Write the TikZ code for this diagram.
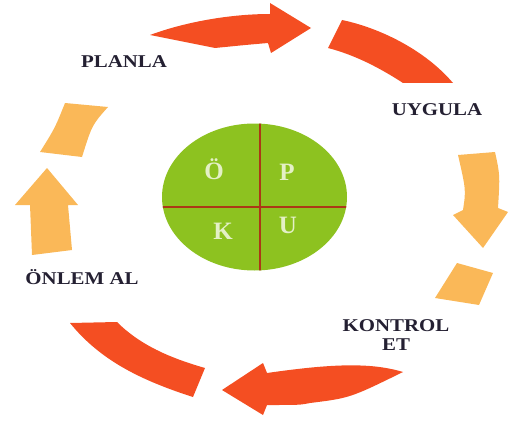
\documentclass[tikz,border=0pt]{standalone}
\usepackage{fontspec}
\setmainfont{Liberation Serif}
\usepackage{tikz}
\usetikzlibrary{shapes.geometric}
\definecolor{arrowred}{RGB}{244,78,34}
\definecolor{arrowpale}{RGB}{250,184,88}
\definecolor{leafgreen}{RGB}{141,194,32}
\definecolor{crossred}{RGB}{172,56,22}
\definecolor{labelink}{RGB}{36,32,50}
\definecolor{letterink}{RGB}{228,240,198}

\begin{document}
\begin{tikzpicture}[x=1pt,y=-1pt,
  redpiece/.style={fill=arrowred,draw=none},
  palepiece/.style={fill=arrowpale,draw=none},
  steplabel/.style={text=labelink,font=\fontsize{18}{19}\selectfont\bfseries,xscale=1.16,align=center,inner sep=0pt},
  letter/.style={text=letterink,font=\fontsize{25}{26}\selectfont\bfseries,inner sep=0pt}]
  \useasboundingbox (0,0) rectangle (510,425);
  % red arrows and bands
  \fill[redpiece] (150,35) .. controls (185,22) and (230,14) .. (270,14) -- (270,3) -- (311,28)
    -- (271,53) -- (268,43) .. controls (245,45) .. (215,48) -- cycle;
  \fill[redpiece] (342,20) .. controls (380,28) and (425,50) .. (453,83) -- (403,83)
    .. controls (380,68) and (355,55) .. (328,48) -- cycle;
  \fill[redpiece] (403,372) .. controls (370,362) and (330,364) .. (267,373) -- (263,363) -- (222,390)
    -- (263,415) -- (267,405) .. controls (300,405) .. (310,403) .. controls (350,398) .. cycle;
  \fill[redpiece] (70,323) -- (117,322) .. controls (140,345) and (170,358) .. (205,368) -- (193,397)
    .. controls (140,380) and (100,360) .. cycle;
  % pale arrows and blocks
  \fill[palepiece] (458,155) -- (495,152) .. controls (500,175) .. (498,208) -- (508,212) -- (483,248)
    -- (453,215) -- (463,210) .. controls (466,190) .. cycle;
  \fill[palepiece] (457,263) -- (493,273) -- (479,305) -- (435,298) -- cycle;
  \fill[palepiece] (47,168) -- (78,205) -- (68,205) -- (72,250) -- (32,255) -- (30,205) -- (15,205) -- cycle;
  \fill[palepiece] (65,103) -- (108,107) .. controls (92,125) .. (82,157) -- (40,152) .. controls (55,128) .. cycle;
  % centre
  \node[ellipse,fill=leafgreen,minimum width=185pt,minimum height=147pt,inner sep=0pt] (pdca) at (254.5,197) {};
  \begin{scope}
    \clip (254.5,197) ellipse [x radius=92.5,y radius=-73.5];
    \draw[crossred,line width=2.6pt] (260,110) -- (260,290);
    \draw[crossred,line width=2.6pt] (150,207) -- (360,207);
  \end{scope}
  \node[letter] (o) at (214,169) {Ö};
  \node[letter] (p) at (287,172) {P};
  \node[letter] (k) at (223,231) {K};
  \node[letter] (u) at (288,225) {U};
  % labels
  \node[steplabel] (planla) at (124,62) {PLANLA};
  \node[steplabel] (uygula) at (437,110) {UYGULA};
  \node[steplabel] (kontrol) at (396,335) {KONTROL\\[0pt]ET};
  \node[steplabel] (onlem) at (82,277) {ÖNLEM AL};
\end{tikzpicture}
\end{document}
